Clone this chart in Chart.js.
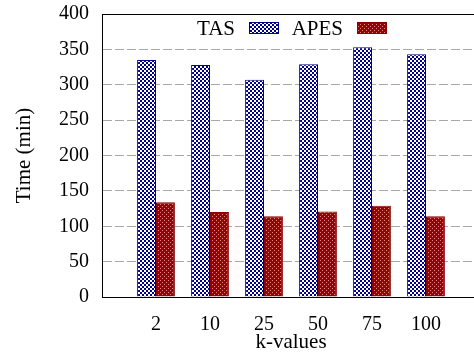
<!DOCTYPE html>
<html><head><meta charset="utf-8">
<script src="https://cdn.jsdelivr.net/npm/chart.js@4.4.0/dist/chart.umd.min.js"></script>
<style>html,body{margin:0;padding:0;overflow:hidden;background:#fff;} #wrap{width:480px;height:356px;}</style>
</head><body><div id="wrap"><canvas id="c" width="480" height="356"></canvas></div>
<script>
const categories = ['2', '10', '25', '50', '75', '100'];
const tasValues = [335, 328, 307, 329, 353, 343];
const apesValues = [134, 120, 114, 121, 129, 114];
const seriesNames = ['TAS', 'APES'];
const yMin = 0, yMax = 400, yStep = 50;
const xTitle = 'k-values';
const yTitle = 'Time (min)';

// padded category list: an empty slot on each side
const xLabels = [''].concat(categories, ['']);
const pad = arr => [null].concat(arr, [null]);

function makePattern(kind) {
  const c = document.createElement('canvas');
  c.width = 4; c.height = 4;
  const g = c.getContext('2d');
  if (kind === 'blue') {
    g.fillStyle = '#ffffff'; g.fillRect(0, 0, 4, 4);
    g.fillStyle = '#000090';
    g.fillRect(0, 0, 2, 2); g.fillRect(2, 2, 2, 2);
  } else {
    g.fillStyle = '#9a0000'; g.fillRect(0, 0, 4, 4);
    g.fillStyle = '#d88888';
    g.fillRect(0, 0, 1, 1); g.fillRect(2, 2, 1, 1);
  }
  return document.getElementById('c').getContext('2d').createPattern(c, 'repeat');
}
const bluePat = makePattern('blue');
const redPat = makePattern('red');

const FONT = "'Liberation Serif', 'Times New Roman', serif";

const zeroPad = s => { s.paddingTop = 0; s.paddingBottom = 0; s.paddingLeft = 0; s.paddingRight = 0; };

const framePlugin = {
  id: 'frame',
  afterDraw(chart) {
    const {ctx, chartArea} = chart;
    ctx.save();
    ctx.strokeStyle = '#000';
    ctx.lineWidth = 1;
    ctx.beginPath();
    ctx.moveTo(chartArea.left, Math.round(chartArea.top) + 0.5);
    ctx.lineTo(chartArea.right, Math.round(chartArea.top) + 0.5);
    ctx.stroke();
    // legend inside the plot area
    ctx.font = '21px ' + FONT;
    ctx.textBaseline = 'alphabetic';
    ctx.textAlign = 'right';
    const ds = chart.data.datasets;
    const items = [
      {textRight: 235, sx: 249, ds: ds[0]},
      {textRight: 343, sx: 357, ds: ds[1]}
    ];
    items.forEach(it => {
      ctx.fillStyle = '#000';
      ctx.fillText(it.ds.label, it.textRight, 35);
      ctx.fillStyle = it.ds.backgroundColor;
      ctx.fillRect(it.sx, 22, 30, 12);
      ctx.strokeStyle = it.ds.borderColor;
      ctx.lineWidth = 1;
      ctx.strokeRect(it.sx + 0.5, 22.5, 29, 11);
    });
    ctx.restore();
  }
};

new Chart(document.getElementById('c'), {
  type: 'bar',
  data: {
    labels: xLabels,
    datasets: [
      {label: seriesNames[0], data: pad(tasValues), backgroundColor: bluePat, borderColor: '#000088', borderWidth: 1},
      {label: seriesNames[1], data: pad(apesValues), backgroundColor: redPat, borderColor: '#8a0000', borderWidth: 1}
    ]
  },
  options: {
    responsive: false,
    animation: false,
    devicePixelRatio: 1,
    layout: {padding: {top: 14, left: 0, right: 0, bottom: 0}},
    plugins: {legend: {display: false}, tooltip: {enabled: false}},
    datasets: {bar: {categoryPercentage: 0.7, barPercentage: 1.0}},
    scales: {
      x: {
        type: 'category',
        offset: false,
        grid: {display: false, drawTicks: false},
        border: {display: true, color: '#000', width: 1},
        ticks: {color: '#000', font: {family: FONT, size: 20}, padding: 16, maxRotation: 0, autoSkip: false},
        title: {display: true, text: xTitle, color: '#000', font: {family: FONT, size: 21}, padding: {top: 0, bottom: 1}},
        afterFit: s => { s.height = 59; zeroPad(s); }
      },
      y: {
        min: yMin, max: yMax,
        ticks: {stepSize: yStep, color: '#000', font: {family: FONT, size: 20}, padding: 13},
        grid: {color: '#a8a8a8', lineWidth: 1, drawTicks: false},
        border: {display: true, color: '#000', width: 1, dash: [9, 3]},
        title: {display: true, text: yTitle, color: '#000', font: {family: FONT, size: 21}, padding: {top: 12, bottom: 0}},
        afterFit: s => { s.width = 102; zeroPad(s); }
      }
    }
  },
  plugins: [framePlugin]
});
</script>
</body></html>
